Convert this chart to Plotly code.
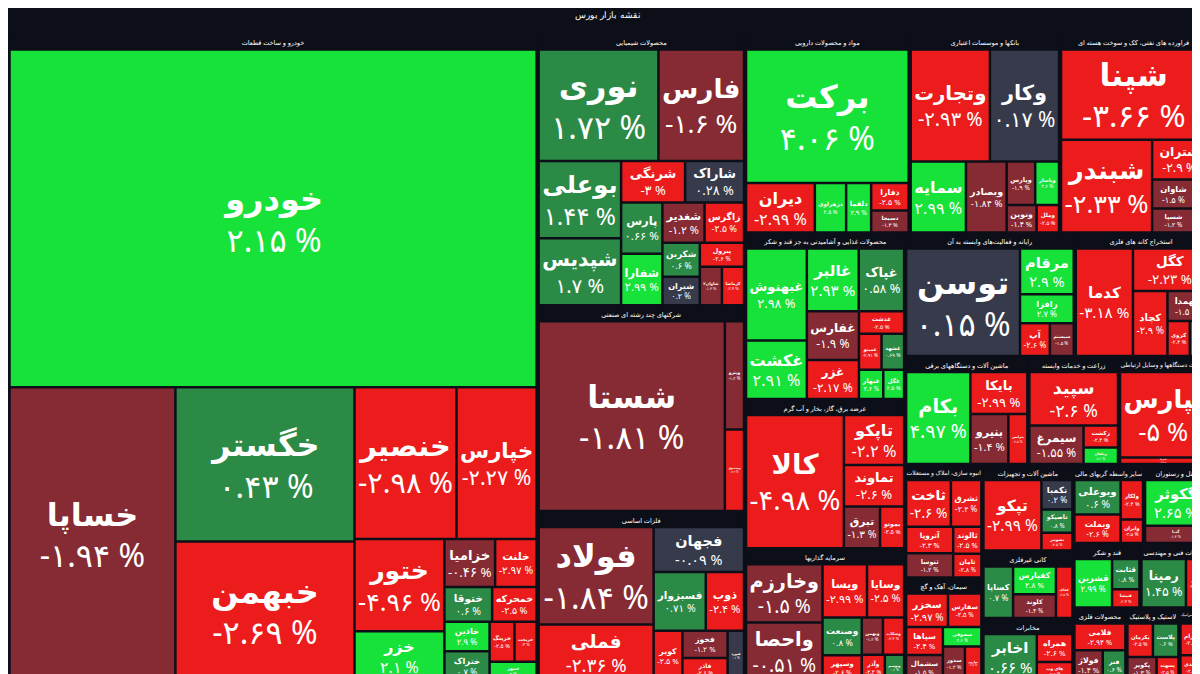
import plotly.graph_objects as go

title_text = "نقشه بازار بورس"

sectors = ["خودرو و ساخت قطعات", "محصولات شیمیایی", "شرکتهای چند رشته ای صنعتی", "فلزات اساسی",
           "مواد و محصولات دارویی", "بانکها و موسسات اعتباری", "محصولات غذایی و آشامیدنی به جز قند و شکر",
           "فراورده های نفتی، کک و سوخت هسته ای", "سرمایه گذاریها", "رایانه و فعالیت‌های وابسته به آن",
           "عرضه برق، گاز، بخار و آب گرم", "انبوه سازی، املاک و مستغلات", "استخراج کانه های فلزی",
           "ساخت دستگاهها و وسایل ارتباطی", "ماشین آلات و دستگاههای برقی", "ماشین آلات و تجهیزات",
           "زراعت و خدمات وابسته", "سیمان، آهک و گچ", "هتل و رستوران", "قند و شکر",
           "لاستیک و پلاستیک", "سایر واسطه گریهای مالی", "خدمات فنی و مهندسی",
           "کانی غیرفلزی", "مخابرات", "محصولات فلزی", "کاشی و سرامیک"]

stock_names = [
    "خودرو","خساپا","خگستر","خبهمن","خنصیر","خپارس","ختور","خزر","خزامیا","خلنت","ختوقا","خمحرکه","خاذین","ختراک","خریخت","خرینگ","خمهر",
    "نوری","فارس","بوعلی","شپدیس","شاراک","پارس","شرنگی","شفارا","شغدیر","زاگرس","شکربن","شیران","پترول","شاوان۲","کرماشا",
    "شستا","وپترو","وصندوق",
    "فولاد","فملی","فجهان","فسبزوار","ذوب","کویر","فخوز","فاذر","فنورد",
    "برکت","دیران","دزهراوی","دلقما","دفارا","دسبحا",
    "وتجارت","وکار","سمایه","وبصادر","وپارس","وپاسار","ونوین","وملل",
    "غبهنوش","غالبر","غپاک","غزر","غکشت","غفارس","غدشت","غمینو","غشهد","غبهار","غگل",
    "شپنا","شبندر","شتران","شاوان","شسپا","شراز",
    "وخارزم","واحصا","ویسا","وسایا","وصنعت","وسپهر","وبهمن","وسکاب","وآذر","وتوسم",
    "توسن","مرقام","رافزا","آپ","سیستم",
    "کالا","تاپکو","تماوند","تبرق","بموتو",
    "ثاخت","ثشرق","آتروپا","ثنوسا","ثالوند","ثامان",
    "کدما","کگل","کچاد","کهمدا","کروی","کمنگنز",
    "لپارس","لسرما",
    "بکام","بایکا","بنیرو","بترانس",
    "تپکو","تکمبا","تاصیکو","تشونیز",
    "سپید","سیمرغ","زکشت","زماهان",
    "سخزر","سفارس","سپاها","سشمال","سصوفی","سدور","ساروم",
    "گکوثر","گدنا",
    "قشرین","قثابت","قنیشا",
    "پکرمان","پلاست","پکویر","پسهند",
    "وبوعلی","وبملت","ولکار","وایران",
    "رمپنا","فنی",
    "کساپا","کفپارس","کلوند","کخاک",
    "اخابر","همراه","های وب",
    "فلامی","فولاژ","فنر",
    "کسرام","کسعدی",
]
stock_sectors = (["خودرو و ساخت قطعات"]*17 + ["محصولات شیمیایی"]*15 + ["شرکتهای چند رشته ای صنعتی"]*3 +
                 ["فلزات اساسی"]*9 + ["مواد و محصولات دارویی"]*6 + ["بانکها و موسسات اعتباری"]*8 +
                 ["محصولات غذایی و آشامیدنی به جز قند و شکر"]*11 + ["فراورده های نفتی، کک و سوخت هسته ای"]*6 +
                 ["سرمایه گذاریها"]*10 + ["رایانه و فعالیت‌های وابسته به آن"]*5 + ["عرضه برق، گاز، بخار و آب گرم"]*5 +
                 ["انبوه سازی، املاک و مستغلات"]*6 + ["استخراج کانه های فلزی"]*6 + ["ساخت دستگاهها و وسایل ارتباطی"]*2 +
                 ["ماشین آلات و دستگاههای برقی"]*4 + ["ماشین آلات و تجهیزات"]*4 + ["زراعت و خدمات وابسته"]*4 +
                 ["سیمان، آهک و گچ"]*7 + ["هتل و رستوران"]*2 + ["قند و شکر"]*3 + ["لاستیک و پلاستیک"]*4 +
                 ["سایر واسطه گریهای مالی"]*4 + ["خدمات فنی و مهندسی"]*2 + ["کانی غیرفلزی"]*4 +
                 ["مخابرات"]*3 + ["محصولات فلزی"]*3 + ["کاشی و سرامیک"]*2)
stock_values = [
    161,44,25,22.5,14,11,7.5,4,2.2,1.8,1.5,1.4,1.2,1.2,0.8,0.9,0.8,
    12.6,9,6,5.2,2.3,2,2.5,2,1.6,1.5,1.2,1,1,0.8,0.8,
    34,2,1.5,
    11,6.3,4,3,2.2,1.4,1.2,1,0.8,
    21,3.3,1.5,1.2,1,0.8,
    8.6,7.5,3.8,2.8,1.2,1,0.8,0.6,
    5.5,3.2,2.8,2,3.5,2.5,1,0.8,0.8,0.7,0.6,
    12.7,8.2,2.1,1.2,1,0.6,
    4.5,4.5,2.4,2,1.5,1,0.8,0.8,0.6,0.5,
    12.5,2.5,1.6,1,0.8,
    13,3,2.5,1.5,1,
    2.2,1.5,1.3,1.2,0.8,0.7,
    6.3,3.2,2.3,1.2,0.8,0.6,
    7.8,0.6,
    6.2,2.5,2,1,
    4.5,1,0.8,0.6,
    5,2.2,0.8,0.6,
    1.5,1.2,1.1,1,0.8,0.8,0.6,
    3.2,1.2,
    2.2,1,0.6,
    1,1,0.8,0.6,
    1.8,1.5,1,0.6,
    2.6,1.2,
    1.8,1.4,1.2,1,
    3,1.2,0.8,
    1.6,1,0.8,
    1,0.8,
]
stock_changes = [
    2.15,-1.94,0.43,-2.69,-2.98,-2.27,-4.96,2.1,-0.46,-2.97,0.6,-2.5,2.9,0.7,-3,-2.5,3,
    1.72,-1.6,1.44,1.7,0.28,0.66,-3,2.99,-1.2,-2.5,0.6,0.2,-2.6,-1.4,-2.4,
    -1.81,-1.2,-2.4,
    -1.84,-2.36,-0.09,0.71,-2.4,-2.5,-1.2,-2.6,0.1,
    4.06,-2.99,2.5,2.9,-2.5,-1.3,
    -2.93,0.17,2.99,-1.84,-1.9,2.6,-1.4,-2.5,
    2.98,2.93,0.58,-2.17,2.91,-1.9,-2.5,-2.91,0.69,2.6,2.5,
    -3.66,-2.33,-2.9,-1.5,-1.2,0.1,
    -1.5,-0.51,-2.99,-2.5,0.8,-2.6,-1.2,-2.4,-2.2,0.6,
    0.154,2.9,2.7,-2.6,-1.5,
    -4.98,-2.2,-2.6,-1.3,-2.5,
    -2.6,-2.4,-2.3,-1.2,-2.5,-2.8,
    -3.18,-2.23,-2.9,-1.5,-2.4,-2.6,
    -5,-2.5,
    4.97,-2.99,-1.4,-2.5,
    -2.99,0.2,0.8,-2.5,
    -2.6,-1.55,-2.4,2.6,
    -2.97,-2.5,-2.4,-1.5,2.6,-1.3,-2.5,
    2.65,-1.4,
    2.99,0.8,-2.4,
    -2.5,0.6,-1.3,-2.5,
    0.6,-2.6,-2.4,-2.5,
    1.45,-2.4,
    0.7,2.8,-1.4,-2.5,
    0.66,-2.6,-2.5,
    -2.94,-1.4,0.6,
    -2.5,-2.6,
]

def color_for(p):
    if p >= 2: return "#17e23a"
    if p >= 0.3: return "#2b8a45"
    if p > -0.3: return "#363a4b"
    if p > -2: return "#862a33"
    return "#ec1c1c"

fa = str.maketrans("0123456789", "۰۱۲۳۴۵۶۷۸۹")
def fmt(p):
    return ("-" if p < 0 else "") + f"{abs(p):.2f}".rstrip("0").rstrip(".").translate(fa) + " %"

ids, labels, parents, values, colors, texts, tmpl, sizes = [], [], [], [], [], [], [], []
sector_totals = {s: 0 for s in sectors}
for n, s, v in zip(stock_names, stock_sectors, stock_values):
    sector_totals[s] += v
for s in sectors:
    ids.append(s); labels.append(s); parents.append(""); values.append(sector_totals[s])
    colors.append("#0d0f18"); texts.append(""); tmpl.append("%{label}"); sizes.append(8)
for n, s, v, c in zip(stock_names, stock_sectors, stock_values, stock_changes):
    ids.append(s + "/" + n); labels.append(n); parents.append(s); values.append(v)
    colors.append(color_for(c)); texts.append(fmt(c)); tmpl.append("<b>%{label}</b><br>%{text}"); sizes.append(32)

fig = go.Figure(go.Treemap(
    ids=ids, labels=labels, parents=parents, values=values, text=texts,
    branchvalues="total", sort=True,
    texttemplate=tmpl, textposition="middle center",
    marker=dict(colors=colors, line=dict(color="#0d0f18", width=1.5), pad=dict(t=15, l=1, r=1, b=1)),
    textfont=dict(family="Noto Sans, DejaVu Sans", size=sizes, color="white"),
    tiling=dict(packing="squarify", pad=1),
    pathbar=dict(visible=False),
    hoverinfo="skip",
))
fig.update_layout(
    width=1200, height=674,
    paper_bgcolor="#0d0f18", plot_bgcolor="#0d0f18",
    margin=dict(l=0, r=0, t=12, b=0),
    title=dict(text=title_text, x=0.5, y=0.995, font=dict(size=9, color="white", family="Noto Sans")),
)
fig.write_html("out.html")
